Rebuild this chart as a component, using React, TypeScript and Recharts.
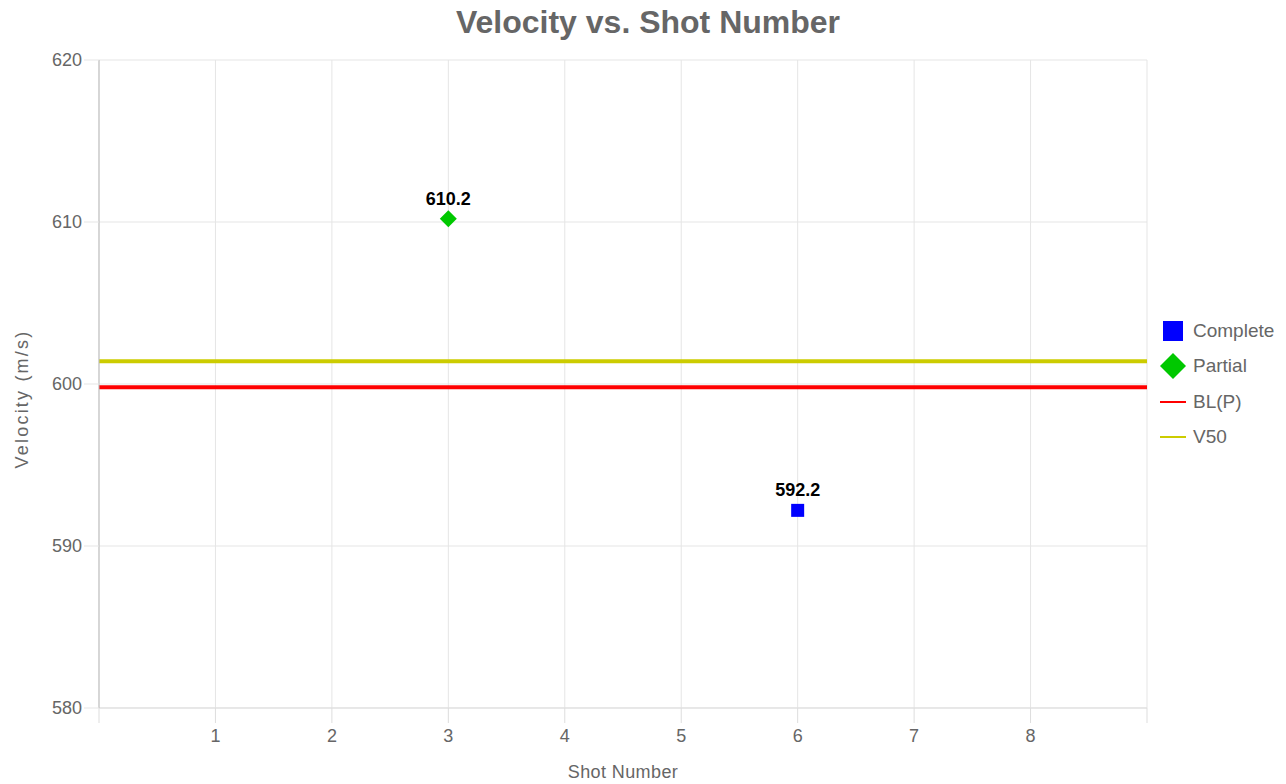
import { ComposedChart, Line, Scatter, XAxis, YAxis, CartesianGrid } from "recharts"

const shotTicks = [0, 1, 2, 3, 4, 5, 6, 7, 8, 9]
const velocityTicks = [580, 590, 600, 610, 620]

const completeShots = [6]
const completeVelocities = [592.2]
const partialShots = [3]
const partialVelocities = [610.2]

const lineSpan = [0, 9]
const blpVelocity = 599.8
const v50Velocity = 601.4

const FONT = '"Liberation Sans", Arial, Helvetica, sans-serif'

const completeData = completeShots.map((x, i) => ({ x, y: completeVelocities[i] }))
const partialData = partialShots.map((x, i) => ({ x, y: partialVelocities[i] }))
const blpData = lineSpan.map((x) => ({ x, y: blpVelocity }))
const v50Data = lineSpan.map((x) => ({ x, y: v50Velocity }))

const legendItems = [
  { name: "Complete", kind: "square", color: "#0000ff" },
  { name: "Partial", kind: "diamond", color: "#00c800" },
  { name: "BL(P)", kind: "line", color: "#ff0000" },
  { name: "V50", kind: "line", color: "#cccc00" },
]

function pointLabel(cx: number, cy: number, value: number) {
  return (
    <text
      x={cx}
      y={cy - 14}
      textAnchor="middle"
      fontFamily={FONT}
      fontSize={18}
      fontWeight="bold"
      fill="#000"
    >
      {value.toFixed(1)}
    </text>
  )
}

const SquareShape = (props: any) => {
  const { cx, cy, payload } = props
  return (
    <g>
      <rect x={cx - 6.5} y={cy - 6.5} width={13} height={13} fill="#0000ff" />
      {pointLabel(cx, cy, payload.y)}
    </g>
  )
}

const DiamondShape = (props: any) => {
  const { cx, cy, payload } = props
  const r = 8.5
  return (
    <g>
      <polygon
        points={`${cx},${cy - r} ${cx + r},${cy} ${cx},${cy + r} ${cx - r},${cy}`}
        fill="#00c800"
      />
      {pointLabel(cx, cy, payload.y)}
    </g>
  )
}

// y axis title, drawn a little below the plot centre like the original
const YTitle = (props: any) => {
  const { viewBox } = props
  const x = viewBox.x + 22
  const y = viewBox.y + viewBox.height / 2 + 15
  return (
    <text
      x={x}
      y={y}
      transform={`rotate(-90, ${x}, ${y})`}
      textAnchor="middle"
      dominantBaseline="central"
      fontFamily={FONT}
      fontSize={18}
      letterSpacing={2.2}
      fill="#666"
    >
      Velocity (m/s)
    </text>
  )
}

function LegendIcon({ kind, color }: { kind: string; color: string }) {
  return (
    <svg width={26} height={26} style={{ display: "block" }}>
      {kind === "square" && <rect x={3} y={3} width={20} height={20} fill={color} />}
      {kind === "diamond" && <polygon points="13,0 26,13 13,26 0,13" fill={color} />}
      {kind === "line" && <line x1={0} x2={26} y1={13} y2={13} stroke={color} strokeWidth={2} />}
    </svg>
  )
}

export default function App() {
  return (
    <div
      style={{
        position: "absolute",
        left: 0,
        top: 0,
        width: 1286,
        height: 784,
        background: "#fff",
        fontFamily: FONT,
      }}
    >
      <div
        style={{
          position: "absolute",
          left: 0,
          top: 4,
          width: 1296,
          textAlign: "center",
          fontSize: 32,
          lineHeight: "36px",
          fontWeight: "bold",
          color: "#666",
        }}
      >
        Velocity vs. Shot Number
      </div>

      <ComposedChart
        width={1286}
        height={784}
        margin={{ top: 60, right: 139, bottom: 0, left: 0 }}
      >
        <CartesianGrid stroke="#e5e5e5" />
        <XAxis
          type="number"
          dataKey="x"
          domain={[0, 9]}
          ticks={shotTicks}
          interval={0}
          tickFormatter={(v) => (v === 0 || v === 9 ? "" : String(v))}
          height={76}
          tickSize={15}
          tickMargin={6}
          tickLine={{ stroke: "#ddd" }}
          axisLine={{ stroke: "#ddd" }}
          tick={{ fill: "#666", fontSize: 18, fontFamily: FONT }}
          label={{
            value: "Shot Number",
            position: "insideBottom",
            offset: 6,
            fill: "#666",
            fontSize: 18,
            fontFamily: FONT,
            letterSpacing: 0.4,
          }}
        />
        <YAxis
          type="number"
          domain={[580, 620]}
          ticks={velocityTicks}
          interval={0}
          width={99}
          tickSize={15}
          tickLine={{ stroke: "#e5e5e5" }}
          axisLine={{ stroke: "#bbb" }}
          tick={{ fill: "#666", fontSize: 18, fontFamily: FONT }}
          label={{ content: YTitle }}
        />
        <Line
          data={v50Data}
          dataKey="y"
          name="V50"
          stroke="#cccc00"
          strokeWidth={4}
          dot={false}
          activeDot={false}
          isAnimationActive={false}
        />
        <Line
          data={blpData}
          dataKey="y"
          name="BL(P)"
          stroke="#ff0000"
          strokeWidth={4}
          dot={false}
          activeDot={false}
          isAnimationActive={false}
        />
        <Scatter
          data={partialData}
          dataKey="y"
          name="Partial"
          shape={DiamondShape}
          isAnimationActive={false}
        />
        <Scatter
          data={completeData}
          dataKey="y"
          name="Complete"
          shape={SquareShape}
          isAnimationActive={false}
        />
      </ComposedChart>

      <div style={{ position: "absolute", left: 1160, top: 313 }}>
        {legendItems.map((item) => (
          <div
            key={item.name}
            style={{ display: "flex", alignItems: "center", height: 35.5 }}
          >
            <LegendIcon kind={item.kind} color={item.color} />
            <span style={{ marginLeft: 7, fontSize: 19, color: "#666" }}>{item.name}</span>
          </div>
        ))}
      </div>
    </div>
  )
}
